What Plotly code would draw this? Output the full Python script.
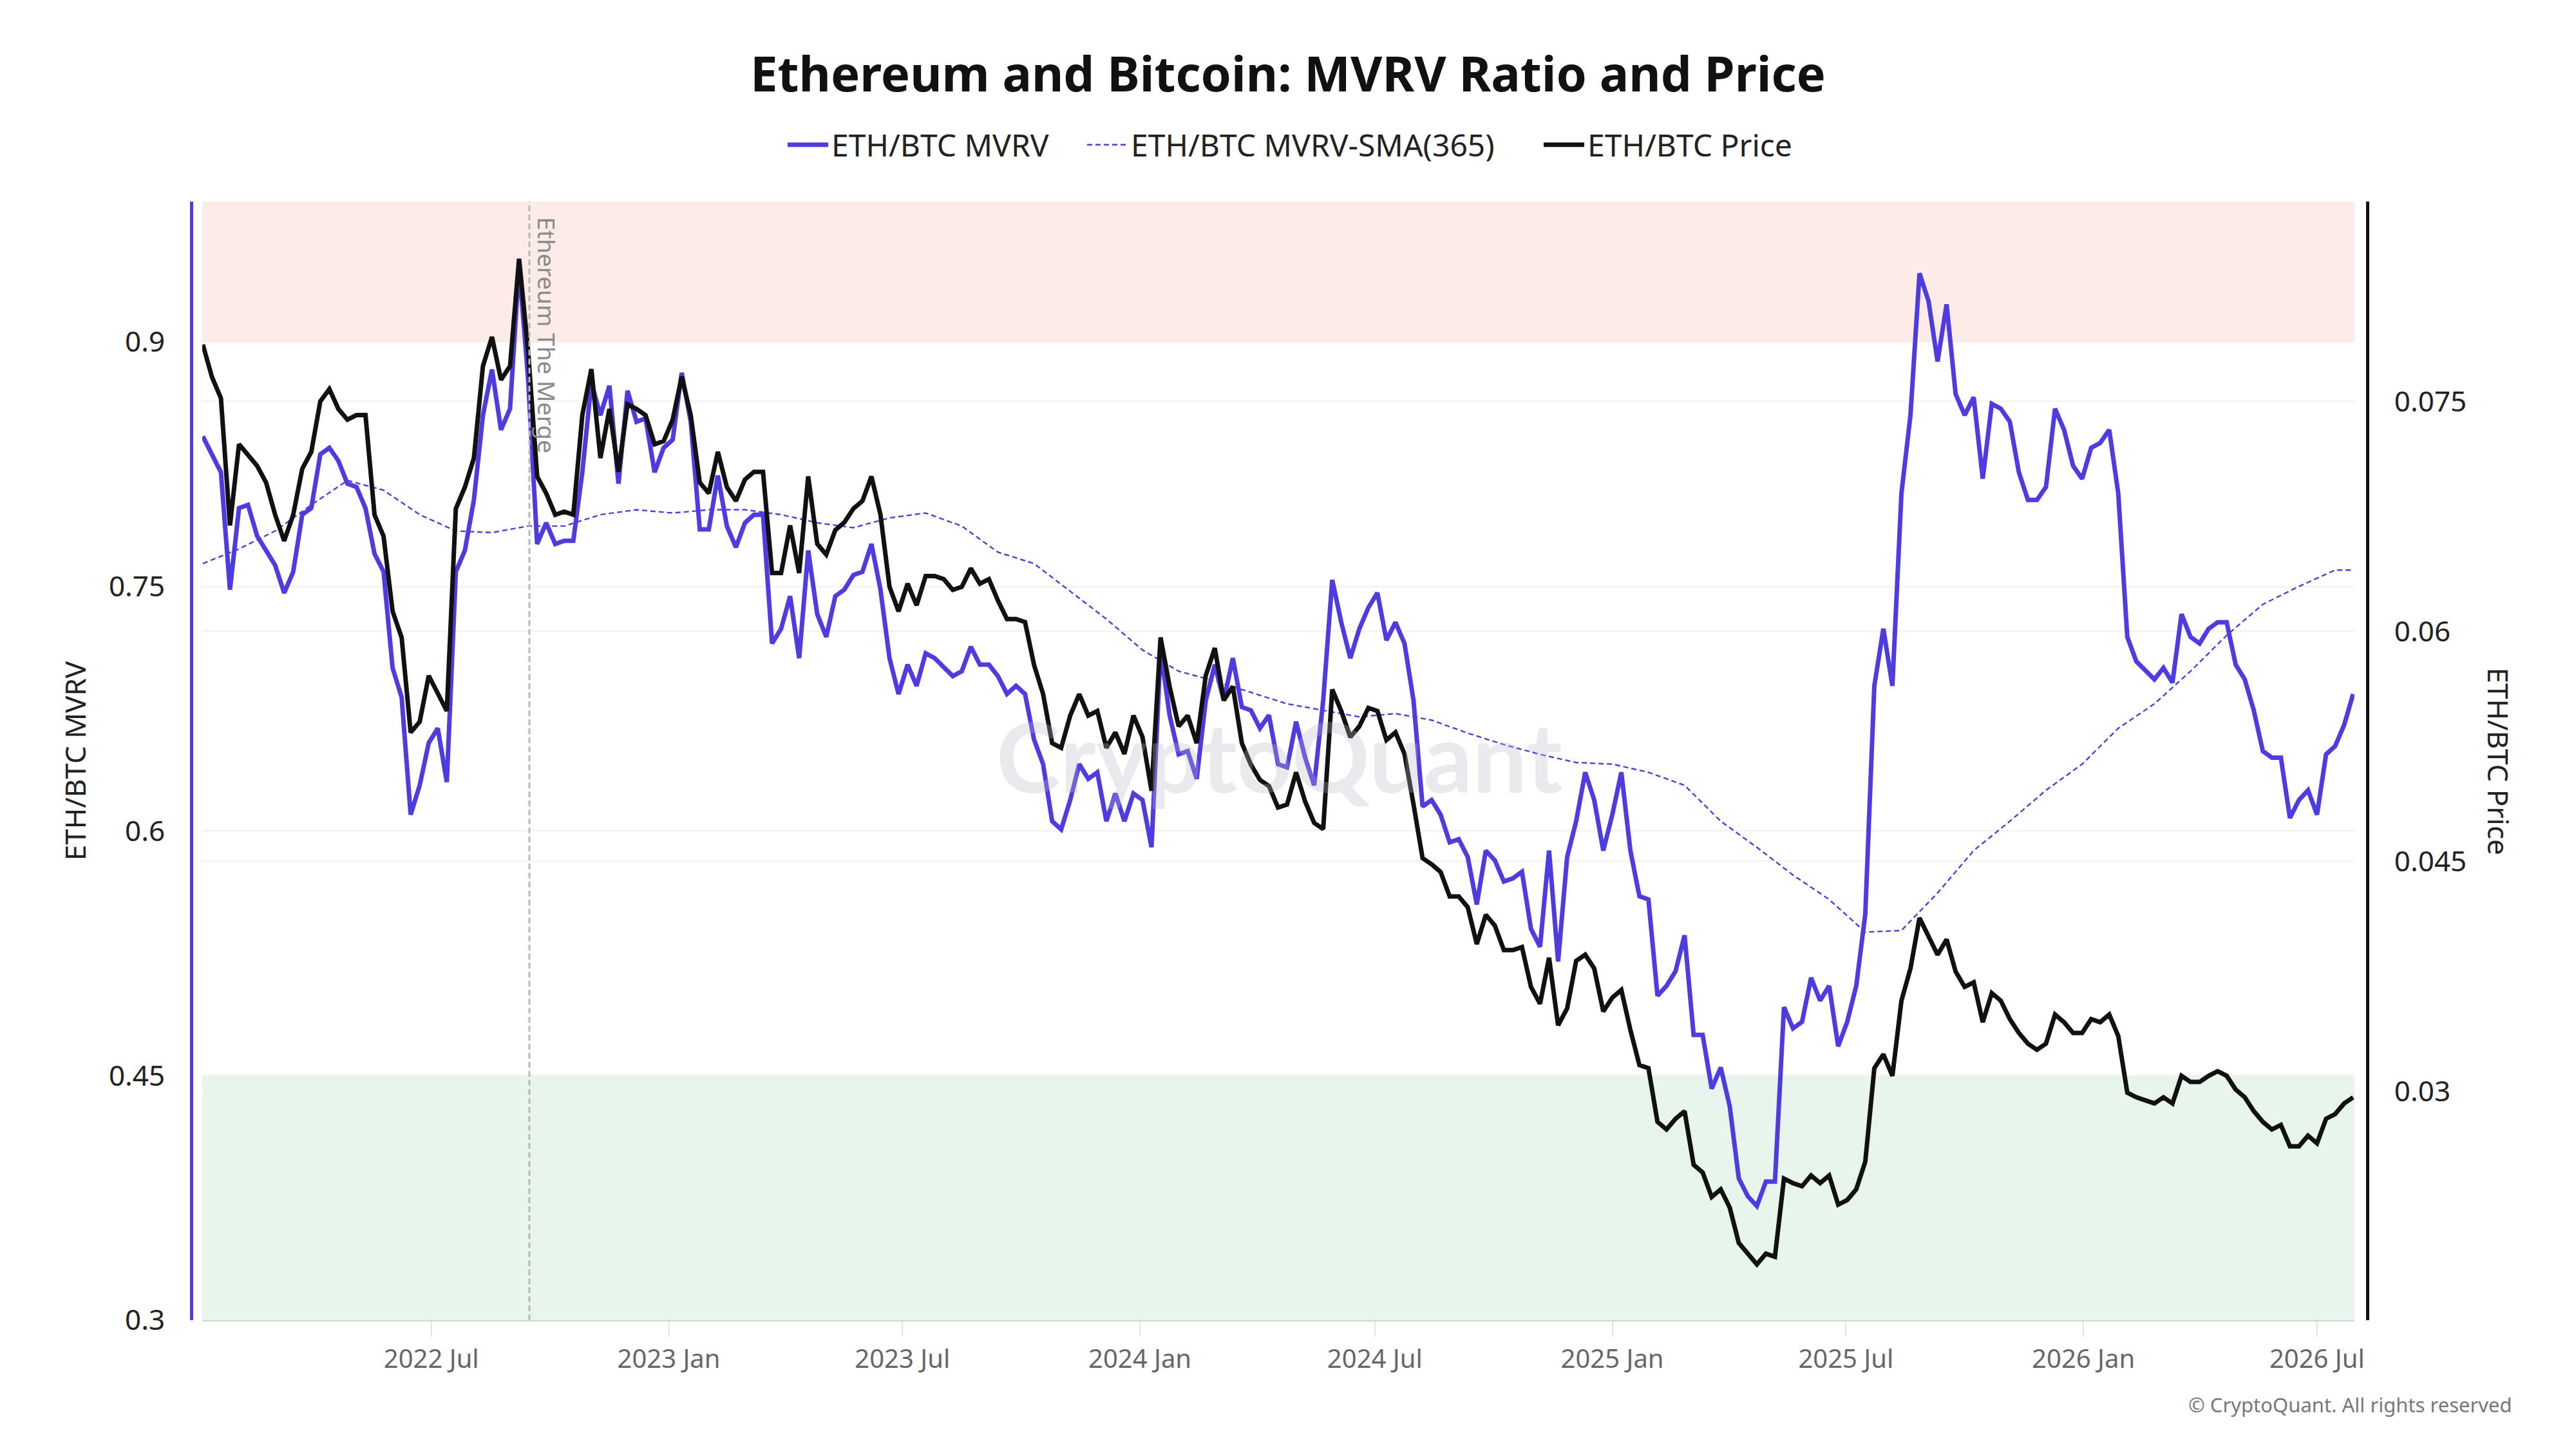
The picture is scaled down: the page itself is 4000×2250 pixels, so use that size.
import pandas as pd
import plotly.graph_objects as go

# ---------------- data (weekly samples) ----------------
start_date = "2022-01-05"

mvrv = [
    0.842, 0.831, 0.820, 0.748, 0.798, 0.800, 0.781, 0.772, 0.763, 0.746,
    0.759, 0.794, 0.798, 0.831, 0.835, 0.827, 0.813, 0.811, 0.798, 0.770,
    0.759, 0.700, 0.682, 0.610, 0.628, 0.654, 0.663, 0.630, 0.759, 0.772,
    0.803, 0.855, 0.883, 0.846, 0.859, 0.947, 0.877, 0.776, 0.789, 0.776,
    0.778, 0.778, 0.820, 0.875, 0.855, 0.873, 0.813, 0.870, 0.851, 0.853,
    0.820, 0.835, 0.840, 0.881, 0.851, 0.785, 0.785, 0.818, 0.787, 0.774,
    0.789, 0.794, 0.794, 0.715, 0.724, 0.744, 0.706, 0.772, 0.733, 0.719,
    0.744, 0.748, 0.757, 0.759, 0.776, 0.748, 0.706, 0.684, 0.702, 0.689,
    0.709, 0.706, 0.700, 0.695, 0.698, 0.713, 0.702, 0.702, 0.695, 0.684,
    0.689, 0.684, 0.656, 0.641, 0.606, 0.601, 0.619, 0.641, 0.632, 0.636,
    0.606, 0.623, 0.606, 0.623, 0.619, 0.590, 0.711, 0.671, 0.647, 0.649,
    0.632, 0.680, 0.702, 0.680, 0.706, 0.676, 0.674, 0.663, 0.671, 0.641,
    0.639, 0.667, 0.645, 0.628, 0.680, 0.754, 0.728, 0.706, 0.724, 0.737,
    0.746, 0.717, 0.728, 0.715, 0.680, 0.615, 0.619, 0.610, 0.593, 0.595,
    0.584, 0.555, 0.588, 0.582, 0.569, 0.571, 0.575, 0.540, 0.529, 0.588,
    0.520, 0.584, 0.606, 0.636, 0.619, 0.588, 0.610, 0.636, 0.588, 0.560,
    0.558, 0.499, 0.505, 0.514, 0.536, 0.475, 0.475, 0.442, 0.455, 0.431,
    0.387, 0.376, 0.370, 0.385, 0.385, 0.492, 0.479, 0.483, 0.510, 0.496,
    0.505, 0.468, 0.483, 0.505, 0.549, 0.689, 0.724, 0.689, 0.807, 0.855,
    0.942, 0.925, 0.888, 0.923, 0.868, 0.855, 0.866, 0.816, 0.862, 0.859,
    0.851, 0.820, 0.803, 0.803, 0.811, 0.859, 0.846, 0.824, 0.816, 0.835,
    0.838, 0.846, 0.807, 0.719, 0.704, 0.698, 0.693, 0.700, 0.691, 0.733,
    0.719, 0.715, 0.724, 0.728, 0.728, 0.702, 0.693, 0.674, 0.649, 0.645,
    0.645, 0.608, 0.619, 0.625, 0.610, 0.647, 0.652, 0.665, 0.684,
]

price = [
    0.0787, 0.0766, 0.0752, 0.0669, 0.0722, 0.0715, 0.0708, 0.0697, 0.0676, 0.0659,
    0.0676, 0.0706, 0.0717, 0.0750, 0.0758, 0.0745, 0.0738, 0.0741, 0.0741, 0.0676,
    0.0662, 0.0613, 0.0596, 0.0534, 0.0541, 0.0571, 0.0559, 0.0548, 0.0680, 0.0694,
    0.0713, 0.0773, 0.0792, 0.0764, 0.0773, 0.0843, 0.0783, 0.0701, 0.0690, 0.0676,
    0.0678, 0.0676, 0.0741, 0.0771, 0.0713, 0.0745, 0.0704, 0.0748, 0.0745, 0.0741,
    0.0722, 0.0724, 0.0738, 0.0766, 0.0741, 0.0697, 0.0690, 0.0717, 0.0694, 0.0685,
    0.0699, 0.0704, 0.0704, 0.0638, 0.0638, 0.0669, 0.0638, 0.0701, 0.0657, 0.0650,
    0.0666, 0.0671, 0.0680, 0.0685, 0.0701, 0.0676, 0.0629, 0.0613, 0.0631, 0.0617,
    0.0636, 0.0636, 0.0634, 0.0627, 0.0629, 0.0641, 0.0631, 0.0634, 0.0620, 0.0608,
    0.0608, 0.0606, 0.0578, 0.0559, 0.0527, 0.0524, 0.0545, 0.0559, 0.0545, 0.0548,
    0.0524, 0.0534, 0.0520, 0.0545, 0.0531, 0.0496, 0.0596, 0.0564, 0.0538, 0.0545,
    0.0527, 0.0571, 0.0589, 0.0555, 0.0564, 0.0527, 0.0513, 0.0503, 0.0499, 0.0485,
    0.0487, 0.0508, 0.0489, 0.0475, 0.0471, 0.0562, 0.0548, 0.0531, 0.0538, 0.0550,
    0.0548, 0.0529, 0.0534, 0.0520, 0.0487, 0.0452, 0.0448, 0.0443, 0.0427, 0.0427,
    0.0420, 0.0396, 0.0415, 0.0408, 0.0392, 0.0392, 0.0394, 0.0368, 0.0357, 0.0387,
    0.0343, 0.0354, 0.0385, 0.0389, 0.0380, 0.0352, 0.0361, 0.0366, 0.0340, 0.0317,
    0.0315, 0.0280, 0.0275, 0.0282, 0.0287, 0.0252, 0.0247, 0.0231, 0.0236, 0.0224,
    0.0201, 0.0194, 0.0187, 0.0194, 0.0192, 0.0243, 0.0240, 0.0238, 0.0245, 0.0240,
    0.0245, 0.0226, 0.0229, 0.0236, 0.0254, 0.0315, 0.0324, 0.0310, 0.0359, 0.0380,
    0.0413, 0.0401, 0.0389, 0.0399, 0.0378, 0.0368, 0.0371, 0.0345, 0.0364, 0.0359,
    0.0347, 0.0338, 0.0331, 0.0327, 0.0331, 0.0350, 0.0345, 0.0338, 0.0338, 0.0347,
    0.0345, 0.0350, 0.0336, 0.0299, 0.0296, 0.0294, 0.0292, 0.0296, 0.0292, 0.0310,
    0.0306, 0.0306, 0.0310, 0.0313, 0.0310, 0.0301, 0.0296, 0.0287, 0.0280, 0.0275,
    0.0278, 0.0264, 0.0264, 0.0271, 0.0266, 0.0282, 0.0285, 0.0292, 0.0296,
]

# 365-day SMA of MVRV, read every fourth week (plus the final point)
sma = [
    0.764, 0.773, 0.784, 0.800, 0.815, 0.809, 0.794, 0.784, 0.783, 0.787,
    0.787, 0.794, 0.797, 0.795, 0.797, 0.797, 0.794, 0.789, 0.786, 0.792,
    0.795, 0.787, 0.771, 0.764, 0.747, 0.730, 0.711, 0.698, 0.692, 0.685,
    0.678, 0.674, 0.670, 0.672, 0.668, 0.660, 0.653, 0.647, 0.642, 0.641,
    0.636, 0.628, 0.606, 0.590, 0.573, 0.558, 0.538, 0.539, 0.562, 0.588,
    0.606, 0.625, 0.641, 0.663, 0.678, 0.698, 0.720, 0.739, 0.750, 0.760,
    0.760,
]

merge_date = "2022-09-15"
merge_label = "Ethereum The Merge"
upper_band = (0.9, 0.986)
lower_band = (0.3, 0.45)
mvrv_ticks = [0.3, 0.45, 0.6, 0.75, 0.9]
price_ticks = [0.015, 0.03, 0.045, 0.06, 0.075]

dates = pd.date_range(start_date, periods=len(mvrv), freq="7D")
sma_dates = list(dates[::4]) + [dates[-1]]

# ---------------- figure ----------------
PURPLE = "#4f3ce0"
BLACK = "#111111"
FONT = "Noto Sans"

W, H = 4000, 2250
ML, MR, MT, MB = 297, 324, 313, 200
PW = W - ML - MR
PH = H - MT - MB


def px_x(p):
    return (p - ML) / PW


def px_y(p):
    return (H - MB - p) / PH


fig = go.Figure()
fig.add_trace(go.Scatter(x=dates, y=mvrv, name="ETH/BTC MVRV", mode="lines",
                         line=dict(color=PURPLE, width=7), yaxis="y", legend="legend"))
fig.add_trace(go.Scatter(x=sma_dates, y=sma, name="ETH/BTC MVRV-SMA(365)", mode="lines",
                         line=dict(color=PURPLE, width=2.4, dash="8px,5px"), yaxis="y",
                         legend="legend2"))
fig.add_trace(go.Scatter(x=dates, y=price, name="ETH/BTC Price", mode="lines",
                         line=dict(color=BLACK, width=7), yaxis="y2", legend="legend3"))

legend_common = dict(orientation="h", xanchor="left", yanchor="middle",
                     y=1 + (MT - 225) / PH,
                     font=dict(size=48, family=FONT, color="#222"),
                     itemwidth=63, bgcolor="rgba(0,0,0,0)")

fig.update_layout(
    width=W, height=H, autosize=False,
    paper_bgcolor="white", plot_bgcolor="white",
    margin=dict(l=ML, r=MR, t=MT, b=MB, pad=0),
    font=dict(family=FONT, color="#222"),
    title=dict(text="<b>Ethereum and Bitcoin: MVRV Ratio and Price</b>",
               font=dict(size=76, family=FONT, color="#111"),
               x=0.5, xref="container", xanchor="center",
               y=1 - 115 / H, yref="container", yanchor="middle"),
    legend=dict(x=px_x(1218), **legend_common),
    legend2=dict(x=px_x(1683), **legend_common),
    legend3=dict(x=px_x(2392), **legend_common),
    showlegend=True,
    xaxis=dict(domain=[px_x(314), px_x(3656)], type="date",
               range=["2022-01-04 12:00", "2026-07-30"],
               tickformat="%Y %b", dtick="M6", tick0="2022-01-01",
               ticks="outside", ticklen=24, tickwidth=2, tickcolor="#e4e4e4",
               showline=True, linecolor="#d0d6d2", linewidth=2,
               showgrid=False, zeroline=False,
               tickfont=dict(size=40, color="#666", family=FONT)),
    yaxis=dict(range=[0.3, 0.986], tickvals=mvrv_ticks,
               ticktext=[str(v) for v in mvrv_ticks],
               anchor="free", position=0, side="left",
               showline=True, linecolor=PURPLE, linewidth=5,
               showgrid=True, gridcolor="#f1f1f1", gridwidth=2,
               zeroline=False, ticks="", ticklabelstandoff=30,
               tickfont=dict(size=44, color="#222", family=FONT),
               title=dict(text="ETH/BTC MVRV", standoff=20,
                          font=dict(size=44, color="#222", family=FONT))),
    yaxis2=dict(range=[0.01506, 0.08803], tickvals=price_ticks,
                ticktext=[str(v) for v in price_ticks],
                overlaying="y", anchor="free", position=1, side="right",
                showline=True, linecolor=BLACK, linewidth=5,
                showgrid=True, gridcolor="#f1f1f1", gridwidth=2,
                zeroline=False, ticks="", ticklabelstandoff=30,
                tickfont=dict(size=44, color="#222", family=FONT)),
)

fig.add_shape(type="rect", xref="x domain", x0=0, x1=1, yref="y",
              y0=upper_band[0], y1=upper_band[1],
              fillcolor="#fcebe7", line=dict(width=0), layer="below")
fig.add_shape(type="rect", xref="x domain", x0=0, x1=1, yref="y",
              y0=lower_band[0], y1=lower_band[1],
              fillcolor="#e8f5ec", line=dict(width=0), layer="below")
fig.add_shape(type="line", xref="x", x0=merge_date, x1=merge_date,
              yref="y domain", y0=0, y1=1,
              line=dict(color="#b8b8b8", width=3, dash="9px,5px"), layer="above")

fig.add_annotation(x=merge_date, xref="x", y=1, yref="paper",
                   text=merge_label, textangle=90, showarrow=False,
                   xanchor="left", yanchor="top", xshift=0, yshift=-22,
                   font=dict(size=37, color="#8a8a8a", family=FONT))
fig.add_annotation(x=px_x(3880), xref="paper", y=0.5, yref="paper",
                   text="ETH/BTC Price", textangle=90, showarrow=False,
                   xanchor="center", yanchor="middle",
                   font=dict(size=44, color="#222", family=FONT))
fig.add_annotation(x=px_x(3903), xref="paper", y=px_y(2181), yref="paper",
                   text="© CryptoQuant. All rights reserved", showarrow=False,
                   xanchor="right", yanchor="middle",
                   font=dict(size=31, color="#777", family=FONT))
fig.add_annotation(x=0.5, xref="paper", y=px_y(1173), yref="paper",
                   text="<b>CryptoQuant</b>", showarrow=False,
                   xanchor="center", yanchor="middle",
                   font=dict(size=150, color="rgba(185,185,200,0.30)", family="Lato"))

fig.write_html("out.html")
